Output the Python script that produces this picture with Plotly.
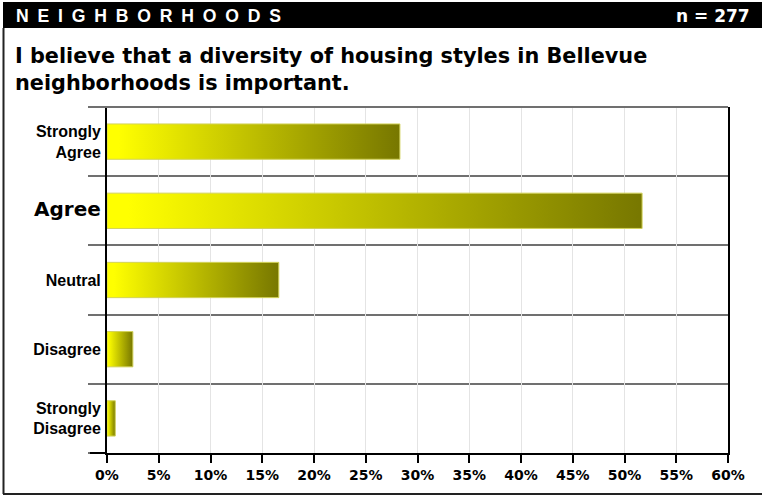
import plotly.graph_objects as go

# ---- data ----
categories = ["Strongly Agree", "Agree", "Neutral", "Disagree", "Strongly Disagree"]
tick_labels = ["Strongly<br>Agree",
               "<span style='font-size:20px;font-family:DejaVu Sans'>Agree</span>",
               "Neutral", "Disagree", "Strongly<br>Disagree"]
percent_values = [28.3, 51.7, 16.6, 2.5, 0.8]
x_ticks = [0, 5, 10, 15, 20, 25, 30, 35, 40, 45, 50, 55, 60]
x_tick_labels = [f"{v}%" for v in x_ticks]
header_text = "NEIGHBORHOODS"
n_text = "n = 277"
title_text = "I believe that a diversity of housing styles in Bellevue<br>neighborhoods is important."

W, H = 762, 497
L, R, T, B = 107, 34, 107, 44
PW, PH = W - L - R, H - T - B

def px(x):
    return (x - L) / PW

def py(y):
    return (H - B - y) / PH

FONT = "Liberation Sans, Arial, sans-serif"
WIDE = "DejaVu Sans, Verdana, sans-serif"
BAR_HALF = 0.255
grad = [[0, "#ffff00"], [0.04, "#ffff00"], [1, "#777700"]]

fig = go.Figure()
for i, (cat, v) in enumerate(zip(categories, percent_values)):
    fig.add_trace(go.Scatter(
        x=[0, v, v, 0, 0],
        y=[i - BAR_HALF, i - BAR_HALF, i + BAR_HALF, i + BAR_HALF, i - BAR_HALF],
        mode="lines", fill="toself", name=cat,
        line=dict(color="#d2d25a", width=1),
        fillgradient=dict(type="horizontal", colorscale=grad),
        hoverinfo="skip", showlegend=False,
    ))

fig.update_xaxes(
    range=[0, 60], tickvals=x_ticks, ticktext=x_tick_labels,
    showgrid=True, gridcolor="#e4e4e4", gridwidth=1,
    ticks="outside", ticklen=8, tickwidth=2, tickcolor="#000",
    showline=True, linecolor="#000", linewidth=2,
    zeroline=False,
    tickfont=dict(family=WIDE, size=14, color="#000", weight="bold"),
    fixedrange=True,
)
fig.update_yaxes(
    range=[len(categories) - 0.5, -0.5],
    tickvals=list(range(len(categories))), ticktext=tick_labels,
    showgrid=False, ticks="", ticklabelstandoff=1,
    showline=True, linecolor="#000", linewidth=2, mirror=True,
    zeroline=False,
    minor=dict(tick0=0.5, dtick=1, showgrid=True, gridcolor="#707070", gridwidth=2,
               ticks="outside", ticklen=17, tickcolor="#707070", tickwidth=2),
    tickfont=dict(family=FONT, size=16, color="#000", weight="bold"),
    fixedrange=True,
)

shapes = [
    # header band
    dict(type="rect", xref="paper", yref="paper", x0=px(3), x1=px(W + 2), y0=py(28), y1=py(2),
         fillcolor="#000", line=dict(width=0), layer="above"),
    # left frame
    dict(type="line", xref="paper", yref="paper", x0=px(3.5), x1=px(3.5), y0=py(28), y1=py(494),
         line=dict(color="#222", width=2)),
    # bottom frame
    dict(type="line", xref="paper", yref="paper", x0=px(3), x1=px(W + 2), y0=py(494), y1=py(494),
         line=dict(color="#222", width=2)),
    # top separator of plot area
    dict(type="line", xref="paper", yref="paper", x0=px(90), x1=1, y0=1, y1=1,
         line=dict(color="#707070", width=2)),
    # bottom extension of x axis to the left
    dict(type="line", xref="paper", yref="paper", x0=px(90), x1=0, y0=0, y1=0,
         line=dict(color="#000", width=2)),
]

annotations = [
    dict(text="\u2002".join(header_text), xref="paper", yref="paper",
         x=px(14), y=py(15.5), xanchor="left", yanchor="middle", showarrow=False,
         font=dict(family=FONT, size=17.6, color="#fff", weight="bold")),
    dict(text=n_text, xref="paper", yref="paper",
         x=px(752), y=py(15.5), xanchor="right", yanchor="middle", showarrow=False,
         font=dict(family=WIDE, size=17, color="#fff", weight="bold")),
    dict(text=title_text, xref="paper", yref="paper",
         x=px(13), y=py(69.5), xanchor="left", yanchor="middle", align="left", showarrow=False,
         font=dict(family=WIDE, size=20.8, color="#000", weight="bold")),
]

fig.update_layout(
    width=W, height=H,
    margin=dict(l=L, r=R, t=T, b=B),
    paper_bgcolor="#fff", plot_bgcolor="#fff",
    shapes=shapes, annotations=annotations,
    font=dict(family=FONT),
)

fig.write_html("out.html", config={"displayModeBar": False},
               post_script="document.body.style.margin='0';document.body.style.overflow='hidden';")
